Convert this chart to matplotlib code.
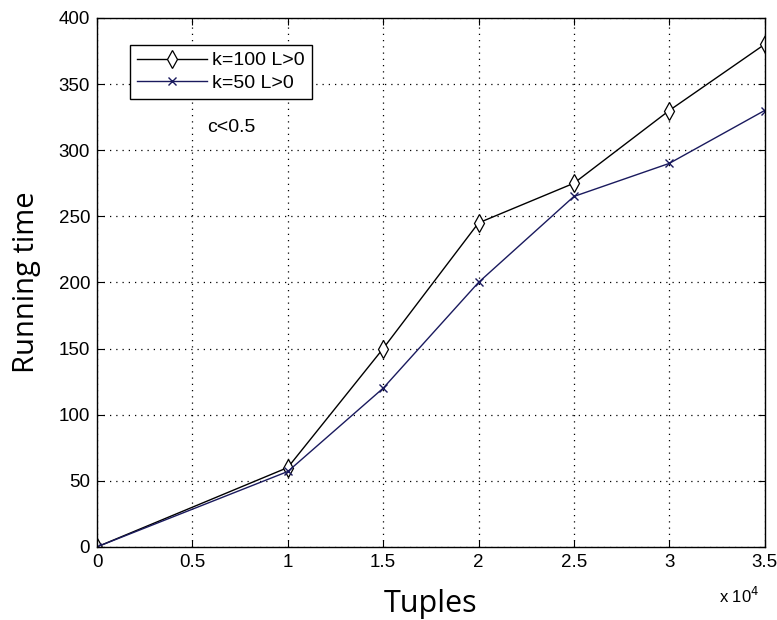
import matplotlib
matplotlib.use("Agg")
import matplotlib.pyplot as plt

# data (x in units of 1e4 tuples)
tuples = [0, 1, 1.5, 2, 2.5, 3, 3.5]
time_k100 = [0, 60, 150, 245, 275, 330, 380]
time_k50 = [0, 57, 120, 200, 265, 290, 330]

x_ticks = [0, 0.5, 1, 1.5, 2, 2.5, 3, 3.5]
y_ticks = [0, 50, 100, 150, 200, 250, 300, 350, 400]

tick_font = ["Liberation Sans Narrow", "Liberation Sans", "DejaVu Sans"]
label_font = ["Open Sans", "DejaVu Sans"]

fig = plt.figure(figsize=(7.77, 6.2), dpi=100)
ax = fig.add_axes([0.125, 0.118, 0.859, 0.853])

ax.plot(tuples, time_k100, color="black", lw=1.0, marker="d", ms=9,
        mfc="white", mec="black", mew=0.9, label="k=100 L>0")
ax.plot(tuples, time_k50, color="#1a1a5e", lw=1.0, marker="x", ms=6,
        mew=1.0, label="k=50 L>0")

ax.set_xlim(0, 3.5)
ax.set_ylim(0, 400)
ax.set_xticks(x_ticks)
ax.set_yticks(y_ticks)
ax.set_xticklabels([f"{t:g}" for t in x_ticks], family=tick_font, fontsize=13.5)
ax.set_yticklabels([str(t) for t in y_ticks], family=tick_font, fontsize=13.5)
ax.tick_params(direction="in", length=5, width=0.8, top=True, right=True,
               labeltop=False, labelright=False, pad=5)
ax.grid(True, linestyle=(0, (1, 4)), color="black", lw=0.9)
for s in ax.spines.values():
    s.set_linewidth(1.0)

ax.set_xlabel("Tuples", family=label_font, fontsize=22, labelpad=13)
ax.set_ylabel("Running time", family=label_font, fontsize=21, labelpad=13)

fig.text(0.925, 0.028, r"x 10$^{4}$", family=tick_font, fontsize=12)

leg = ax.legend(loc="upper left", bbox_to_anchor=(0.049, 0.949),
                prop={"family": tick_font, "size": 14}, fancybox=False,
                edgecolor="black", framealpha=1, borderpad=0.35,
                handlelength=3.6, labelspacing=0.25, handletextpad=0.3,
                borderaxespad=0)
leg.get_frame().set_linewidth(1.0)

ax.text(0.575, 314, "c<0.5", family=tick_font, fontsize=14)

fig.savefig("out.png", dpi=100)
